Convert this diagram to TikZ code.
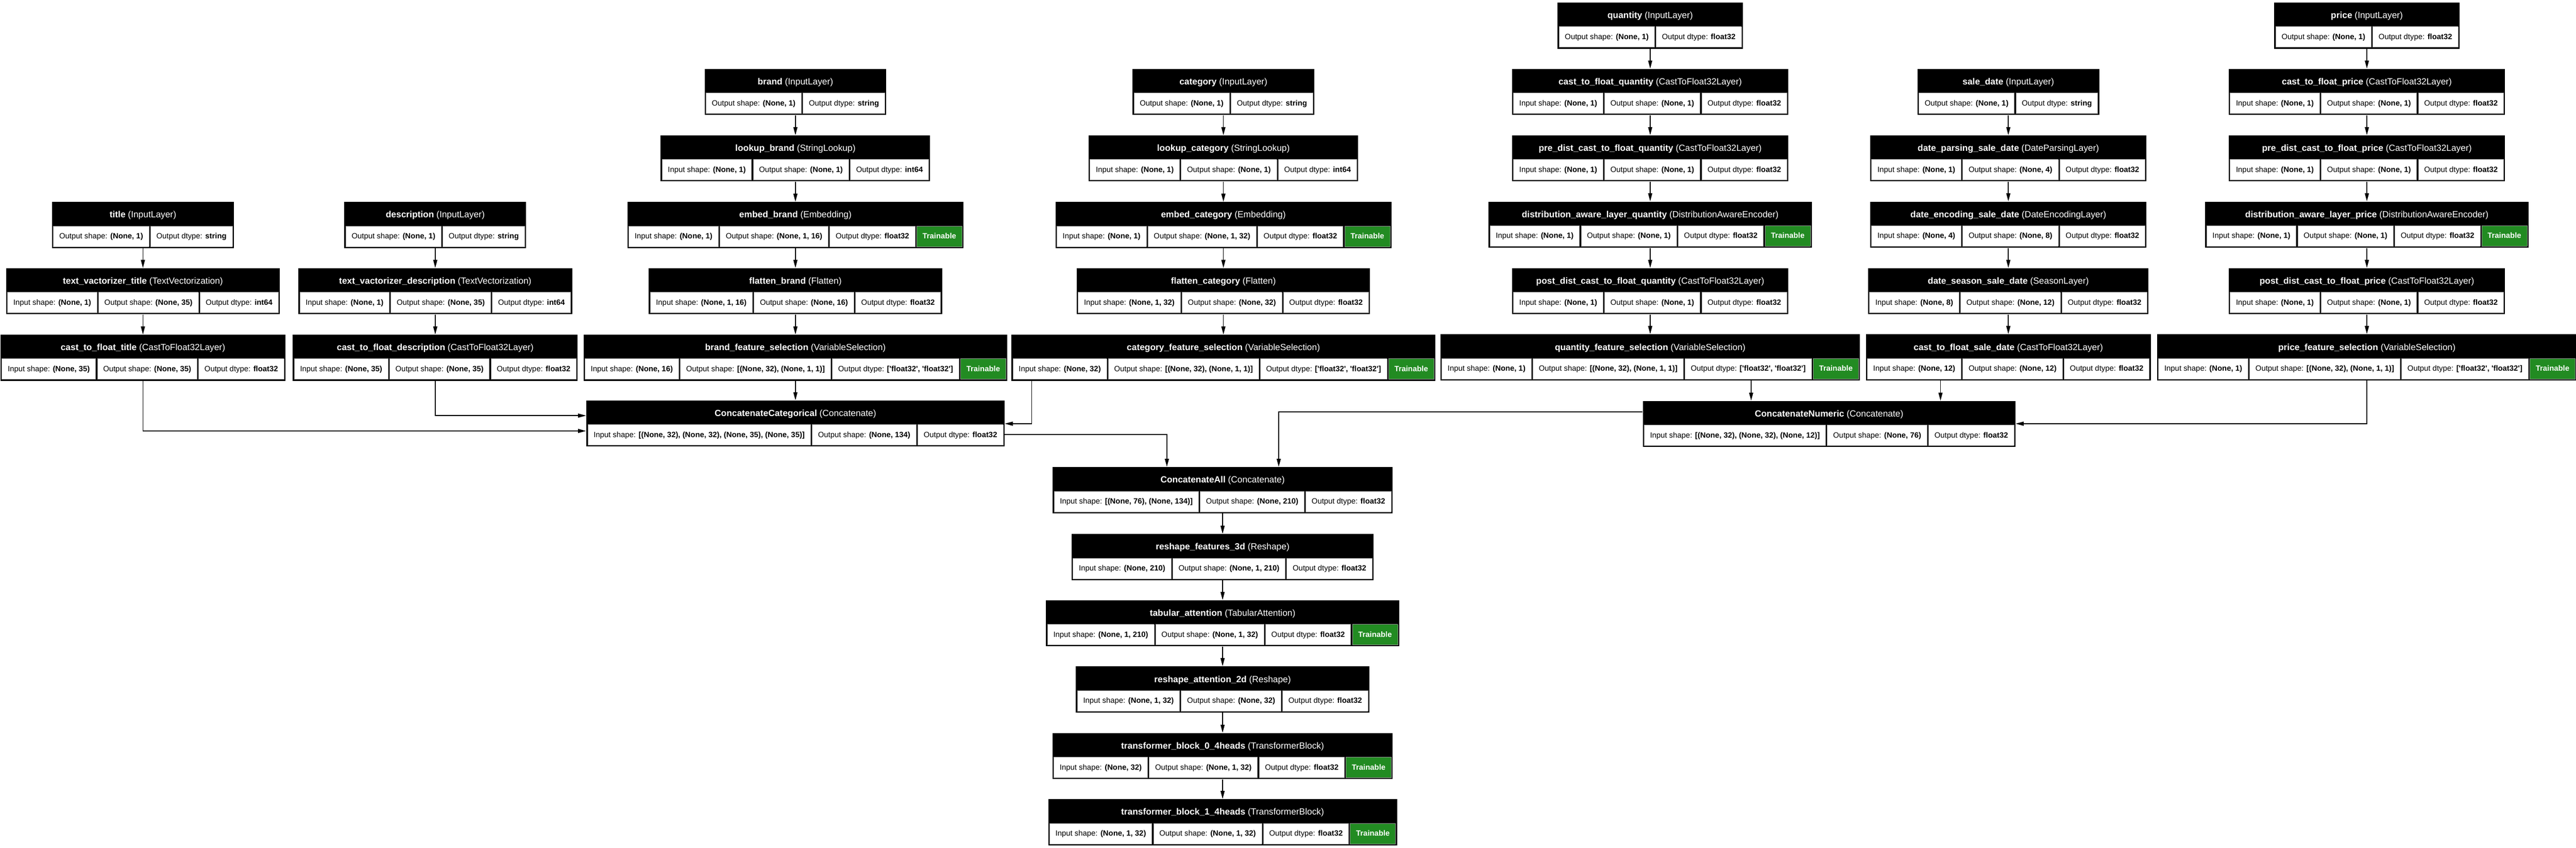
\documentclass[tikz,border=0pt]{standalone}
\usepackage{fontspec}
\setmainfont{Liberation Sans}[Ligatures=TeXOff]
\usetikzlibrary{arrows.meta}
\definecolor{cellgray}{RGB}{150,150,150}
\definecolor{trgreen}{RGB}{34,139,34}
\setlength{\fboxsep}{0pt}
\setlength{\fboxrule}{0.01cm}
\renewcommand\arraystretch{0}
\newcommand\cel[1]{\fcolorbox{cellgray}{white}{\rule[-0.19cm]{0pt}{0.5cm}\hspace{0.14cm}#1\hspace{0.14cm}}}
\newcommand\IS[1]{\cel{Input shape: \textbf{#1}}\hspace{0.03cm}}
\newcommand\OS[1]{\cel{Output shape: \textbf{#1}}\hspace{0.03cm}}
\newcommand\OD[1]{\cel{Output dtype: \textbf{#1}}}
\newcommand\TR{\hspace{0.03cm}\fcolorbox{cellgray}{trgreen}{\rule[-0.19cm]{0pt}{0.5cm}\hspace{0.14cm}\textcolor{white}{\textbf{Trainable}}\hspace{0.14cm}}}
\newcommand\lay[3]{\begin{tabular}{@{}c@{}}{\color{white}\fontsize{6.3}{7}\selectfont\rule[-0.2cm]{0pt}{0.56cm}\textbf{#1} (#2)}\\ \fontsize{5.4}{6}\selectfont #3\end{tabular}}
\begin{document}
\begin{tikzpicture}[
  lb/.style={fill=black, draw=none, inner xsep=0.03cm, inner ysep=0.03cm, anchor=north},
  arr/.style={-{Triangle[length=0.2cm,width=0.1cm]}, line width=0.02cm}]
\useasboundingbox[fill=white] (0,0) rectangle (63.8,-21.01);
% title
\node[lb] (t1) at (3.54,-5.00) {\lay{title}{InputLayer}{\OS{(None, 1)}\OD{string}}};
\node[lb] (t2) at (3.54,-6.64) {\lay{text\_vactorizer\_title}{TextVectorization}{\IS{(None, 1)}\OS{(None, 35)}\OD{int64}}};
\node[lb] (t3) at (3.54,-8.29) {\lay{cast\_to\_float\_title}{CastToFloat32Layer}{\IS{(None, 35)}\OS{(None, 35)}\OD{float32}}};
% description
\node[lb] (d1) at (10.78,-5.00) {\lay{description}{InputLayer}{\OS{(None, 1)}\OD{string}}};
\node[lb] (d2) at (10.78,-6.64) {\lay{text\_vactorizer\_description}{TextVectorization}{\IS{(None, 1)}\OS{(None, 35)}\OD{int64}}};
\node[lb] (d3) at (10.78,-8.29) {\lay{cast\_to\_float\_description}{CastToFloat32Layer}{\IS{(None, 35)}\OS{(None, 35)}\OD{float32}}};
% brand
\node[lb] (b1) at (19.70,-1.70) {\lay{brand}{InputLayer}{\OS{(None, 1)}\OD{string}}};
\node[lb] (b2) at (19.70,-3.35) {\lay{lookup\_brand}{StringLookup}{\IS{(None, 1)}\OS{(None, 1)}\OD{int64}}};
\node[lb] (b3) at (19.70,-5.00) {\lay{embed\_brand}{Embedding}{\IS{(None, 1)}\OS{(None, 1, 16)}\OD{float32}\TR}};
\node[lb] (b4) at (19.70,-6.64) {\lay{flatten\_brand}{Flatten}{\IS{(None, 1, 16)}\OS{(None, 16)}\OD{float32}}};
\node[lb] (b5) at (19.70,-8.29) {\lay{brand\_feature\_selection}{VariableSelection}{\IS{(None, 16)}\OS{[(None, 32), (None, 1, 1)]}\OD{['float32', 'float32']}\TR}};
% category
\node[lb] (c1) at (30.30,-1.70) {\lay{category}{InputLayer}{\OS{(None, 1)}\OD{string}}};
\node[lb] (c2) at (30.30,-3.35) {\lay{lookup\_category}{StringLookup}{\IS{(None, 1)}\OS{(None, 1)}\OD{int64}}};
\node[lb] (c3) at (30.30,-5.00) {\lay{embed\_category}{Embedding}{\IS{(None, 1)}\OS{(None, 1, 32)}\OD{float32}\TR}};
\node[lb] (c4) at (30.30,-6.64) {\lay{flatten\_category}{Flatten}{\IS{(None, 1, 32)}\OS{(None, 32)}\OD{float32}}};
\node[lb] (c5) at (30.30,-8.29) {\lay{category\_feature\_selection}{VariableSelection}{\IS{(None, 32)}\OS{[(None, 32), (None, 1, 1)]}\OD{['float32', 'float32']}\TR}};
% ConcatenateCategorical
\node[lb] (ccat) at (19.70,-9.92) {\lay{ConcatenateCategorical}{Concatenate}{\IS{[(None, 32), (None, 32), (None, 35), (None, 35)]}\OS{(None, 134)}\OD{float32}}};
% quantity
\node[lb] (q1) at (40.87,-0.06) {\lay{quantity}{InputLayer}{\OS{(None, 1)}\OD{float32}}};
\node[lb] (q2) at (40.87,-1.70) {\lay{cast\_to\_float\_quantity}{CastToFloat32Layer}{\IS{(None, 1)}\OS{(None, 1)}\OD{float32}}};
\node[lb] (q3) at (40.87,-3.35) {\lay{pre\_dist\_cast\_to\_float\_quantity}{CastToFloat32Layer}{\IS{(None, 1)}\OS{(None, 1)}\OD{float32}}};
\node[lb] (q4) at (40.87,-4.99) {\lay{distribution\_aware\_layer\_quantity}{DistributionAwareEncoder}{\IS{(None, 1)}\OS{(None, 1)}\OD{float32}\TR}};
\node[lb] (q5) at (40.87,-6.64) {\lay{post\_dist\_cast\_to\_float\_quantity}{CastToFloat32Layer}{\IS{(None, 1)}\OS{(None, 1)}\OD{float32}}};
\node[lb] (q6) at (40.87,-8.28) {\lay{quantity\_feature\_selection}{VariableSelection}{\IS{(None, 1)}\OS{[(None, 32), (None, 1, 1)]}\OD{['float32', 'float32']}\TR}};
% sale_date
\node[lb] (s1) at (49.74,-1.70) {\lay{sale\_date}{InputLayer}{\OS{(None, 1)}\OD{string}}};
\node[lb] (s2) at (49.74,-3.35) {\lay{date\_parsing\_sale\_date}{DateParsingLayer}{\IS{(None, 1)}\OS{(None, 4)}\OD{float32}}};
\node[lb] (s3) at (49.74,-4.99) {\lay{date\_encoding\_sale\_date}{DateEncodingLayer}{\IS{(None, 4)}\OS{(None, 8)}\OD{float32}}};
\node[lb] (s4) at (49.74,-6.64) {\lay{date\_season\_sale\_date}{SeasonLayer}{\IS{(None, 8)}\OS{(None, 12)}\OD{float32}}};
\node[lb] (s5) at (49.74,-8.28) {\lay{cast\_to\_float\_sale\_date}{CastToFloat32Layer}{\IS{(None, 12)}\OS{(None, 12)}\OD{float32}}};
% price
\node[lb] (p1) at (58.62,-0.06) {\lay{price}{InputLayer}{\OS{(None, 1)}\OD{float32}}};
\node[lb] (p2) at (58.62,-1.70) {\lay{cast\_to\_float\_price}{CastToFloat32Layer}{\IS{(None, 1)}\OS{(None, 1)}\OD{float32}}};
\node[lb] (p3) at (58.62,-3.35) {\lay{pre\_dist\_cast\_to\_float\_price}{CastToFloat32Layer}{\IS{(None, 1)}\OS{(None, 1)}\OD{float32}}};
\node[lb] (p4) at (58.62,-4.99) {\lay{distribution\_aware\_layer\_price}{DistributionAwareEncoder}{\IS{(None, 1)}\OS{(None, 1)}\OD{float32}\TR}};
\node[lb] (p5) at (58.62,-6.64) {\lay{post\_dist\_cast\_to\_float\_price}{CastToFloat32Layer}{\IS{(None, 1)}\OS{(None, 1)}\OD{float32}}};
\node[lb] (p6) at (58.62,-8.28) {\lay{price\_feature\_selection}{VariableSelection}{\IS{(None, 1)}\OS{[(None, 32), (None, 1, 1)]}\OD{['float32', 'float32']}\TR}};
% ConcatenateNumeric
\node[lb] (cnum) at (45.30,-9.93) {\lay{ConcatenateNumeric}{Concatenate}{\IS{[(None, 32), (None, 32), (None, 12)]}\OS{(None, 76)}\OD{float32}}};
% central chain
\node[lb] (m1) at (30.28,-11.57) {\lay{ConcatenateAll}{Concatenate}{\IS{[(None, 76), (None, 134)]}\OS{(None, 210)}\OD{float32}}};
\node[lb] (m2) at (30.28,-13.23) {\lay{reshape\_features\_3d}{Reshape}{\IS{(None, 210)}\OS{(None, 1, 210)}\OD{float32}}};
\node[lb] (m3) at (30.28,-14.87) {\lay{tabular\_attention}{TabularAttention}{\IS{(None, 1, 210)}\OS{(None, 1, 32)}\OD{float32}\TR}};
\node[lb] (m4) at (30.28,-16.51) {\lay{reshape\_attention\_2d}{Reshape}{\IS{(None, 1, 32)}\OS{(None, 32)}\OD{float32}}};
\node[lb] (m5) at (30.28,-18.16) {\lay{transformer\_block\_0\_4heads}{TransformerBlock}{\IS{(None, 32)}\OS{(None, 1, 32)}\OD{float32}\TR}};
\node[lb] (m6) at (30.28,-19.80) {\lay{transformer\_block\_1\_4heads}{TransformerBlock}{\IS{(None, 1, 32)}\OS{(None, 1, 32)}\OD{float32}\TR}};
% helper coordinates
\coordinate (hA) at (0,-10.30);
\coordinate (hB) at (0,-10.68);
\coordinate (hC) at (0,-10.50);
\coordinate (hD) at (0,-10.77);
\coordinate (hE) at (0,-10.21);
\coordinate (vA) at (25.55,0);
\coordinate (vB) at (28.90,0);
\coordinate (vC) at (31.67,0);
\coordinate (vD) at (43.37,0);
\coordinate (vE) at (48.06,0);
% straight chains
\foreach \a/\b in {t1/t2,t2/t3,d1/d2,d2/d3,b1/b2,b2/b3,b3/b4,b4/b5,b5/ccat,c1/c2,c2/c3,c3/c4,c4/c5,
  q1/q2,q2/q3,q3/q4,q4/q5,q5/q6,s1/s2,s2/s3,s3/s4,s4/s5,p1/p2,p2/p3,p3/p4,p4/p5,p5/p6,
  m1/m2,m2/m3,m3/m4,m4/m5,m5/m6}
  \draw[arr] (\a.south) -- (\b.north);
% elbows
\draw[arr] (t3.south) |- (ccat.west |- hB);
\draw[arr] (d3.south) |- (ccat.west |- hA);
\draw[arr] (c5.south -| vA) |- (ccat.east |- hC);
\draw[arr] (ccat.east |- hD) -| (m1.north -| vB);
\draw[arr] (cnum.west |- hE) -| (m1.north -| vC);
\draw[arr] (q6.south -| vD) -- (cnum.north -| vD);
\draw[arr] (s5.south -| vE) -- (cnum.north -| vE);
\draw[arr] (p6.south) |- (cnum.east |- hC);
\end{tikzpicture}
\end{document}
